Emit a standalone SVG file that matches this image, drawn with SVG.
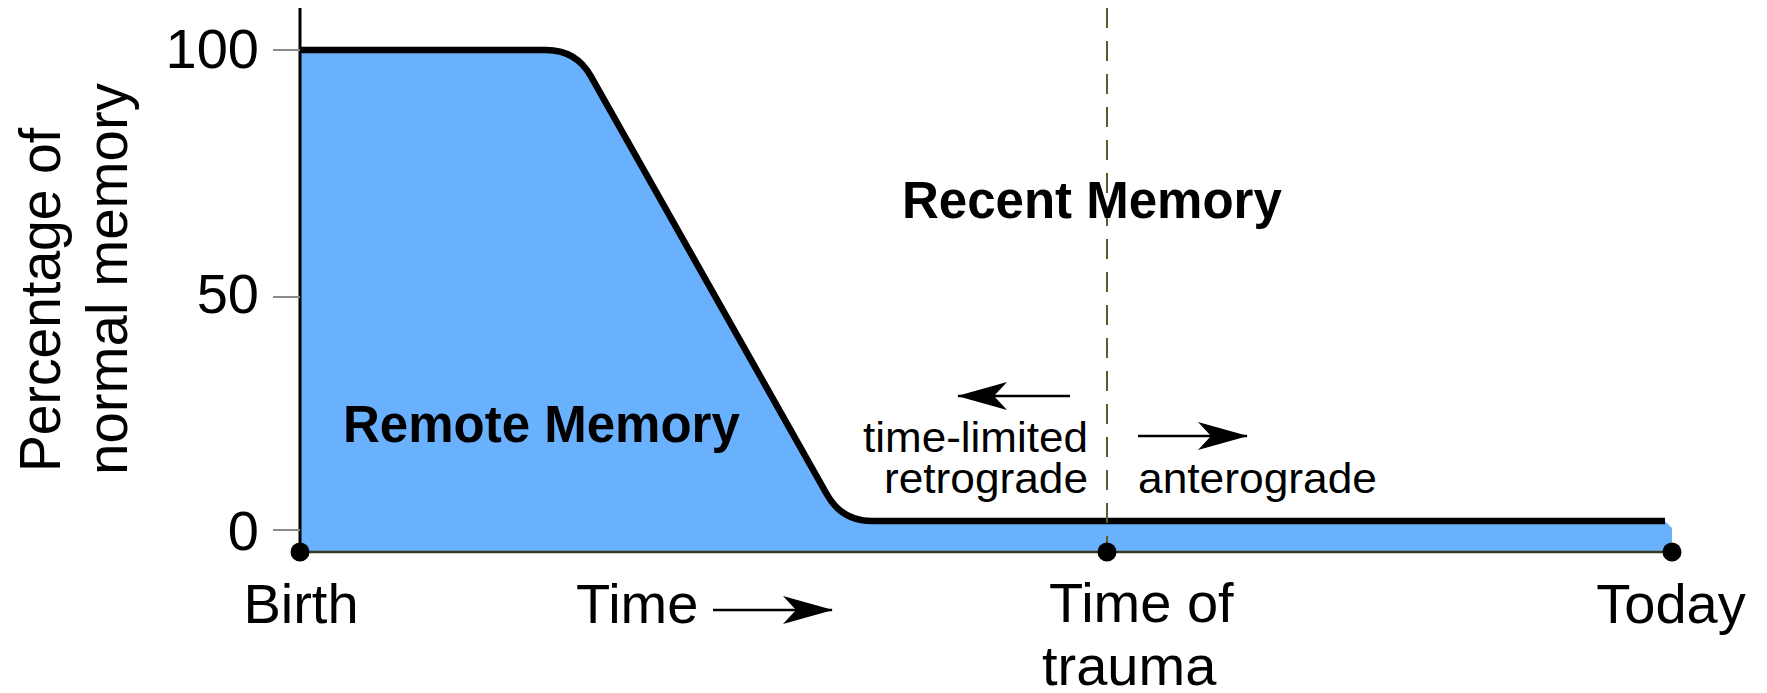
<svg xmlns="http://www.w3.org/2000/svg" width="1767" height="693" viewBox="0 0 1767 693">
<style>
text{font-family:"Liberation Sans",Arial,sans-serif;fill:#000}
.lab{font-size:56px}
.small{font-size:43px}
.bold{font-size:51px;font-weight:bold}
.axt{font-size:58px}
.tick{stroke:#8a8a8a;stroke-width:2}
.arr{stroke:#000;stroke-width:2.5;fill:none}
.dot{fill:#000}
</style>
<defs>
<marker id="ah" viewBox="0 0 50 28" refX="49" refY="14" markerWidth="50" markerHeight="28" markerUnits="userSpaceOnUse" orient="auto">
<path d="M0,0 L50,14 L0,28 L13,14 Z" fill="#000"/>
</marker>
</defs>
<rect width="1767" height="693" fill="#fff"/>
<g id="area">
<path d="M300,50 H546 Q576,50 590.8,76.1 L827.2,494.9 Q842,521 872,521 H1665 L1672,528 V552 H300 Z" fill="#69b1fd"/>
<path d="M300,50 H546 Q576,50 590.8,76.1 L827.2,494.9 Q842,521 872,521 H1665" fill="none" stroke="#000" stroke-width="6.5"/>
</g>
<g id="axes">
<line x1="300" y1="8" x2="300" y2="552" stroke="#000" stroke-width="3"/>
<line x1="300" y1="552" x2="1672" y2="552" stroke="#3d3820" stroke-width="2.5"/>
<line class="tick" x1="273" y1="50" x2="300" y2="50"/>
<line class="tick" x1="273" y1="297" x2="300" y2="297"/>
<line class="tick" x1="273" y1="530" x2="300" y2="530"/>
<line x1="1107" y1="8" x2="1107" y2="552" stroke="#5e5a2c" stroke-width="2" stroke-dasharray="20 13"/>
</g>
<g id="points">
<circle class="dot" cx="300" cy="552" r="9.5"/>
<circle class="dot" cx="1107" cy="552" r="9.5"/>
<circle class="dot" cx="1672" cy="552" r="9.5"/>
</g>
<g id="connectors">
<line class="arr" x1="713" y1="610" x2="832" y2="610" marker-end="url(#ah)"/>
<line class="arr" x1="1070" y1="396" x2="958" y2="396" marker-end="url(#ah)"/>
<line class="arr" x1="1138" y1="436" x2="1247" y2="436" marker-end="url(#ah)"/>
</g>
<g id="ylabels">
<text class="lab" x="259" y="68" text-anchor="end">100</text>
<text class="lab" x="259" y="313" text-anchor="end">50</text>
<text class="lab" x="259" y="550" text-anchor="end">0</text>
<text class="axt" transform="translate(60,300) rotate(-90)" text-anchor="middle" textLength="344" lengthAdjust="spacingAndGlyphs">Percentage of</text>
<text class="axt" transform="translate(127,279) rotate(-90)" text-anchor="middle" textLength="392" lengthAdjust="spacingAndGlyphs">normal memory</text>
</g>
<g id="xlabels">
<text class="lab" x="301" y="623" text-anchor="middle">Birth</text>
<text class="lab" x="576" y="623">Time</text>
<text class="lab" x="1049" y="622">Time of</text>
<text class="lab" x="1042" y="685">trauma</text>
<text class="lab" x="1671" y="623" text-anchor="middle">Today</text>
</g>
<g id="regions">
<text class="bold" x="343" y="442">Remote Memory</text>
<text class="bold" x="902" y="218">Recent Memory</text>
<text class="small" x="1088" y="452" text-anchor="end" textLength="225" lengthAdjust="spacingAndGlyphs">time-limited</text>
<text class="small" x="1088" y="493" text-anchor="end" textLength="204" lengthAdjust="spacingAndGlyphs">retrograde</text>
<text class="small" x="1138" y="493" textLength="239" lengthAdjust="spacingAndGlyphs">anterograde</text>
</g>
</svg>
